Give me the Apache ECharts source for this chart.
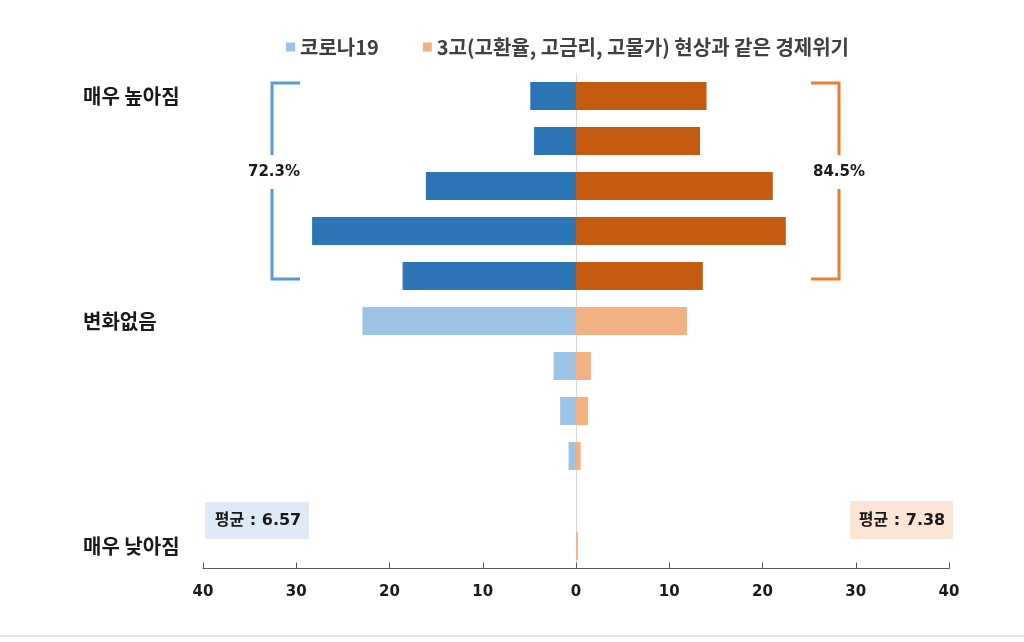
<!DOCTYPE html>
<html><head><meta charset="utf-8">
<script src="https://cdn.jsdelivr.net/npm/echarts@6/dist/echarts.min.js"></script>
<style>html,body{margin:0;padding:0;background:#fff}#c{width:1024px;height:642px}</style>
</head><body><div id="c"></div>
<script>
const categories = ['10','9','8','7','6','5','4','3','2','1','0'];
const categoryLabels = ['매우 높아짐','','','','','변화없음','','','','','매우 낮아짐'];
const seriesNames = ['코로나19','3고(고환율, 고금리, 고물가) 현상과 같은 경제위기'];
const covid = [4.9, 4.5, 16.1, 28.3, 18.6, 22.9, 2.4, 1.7, 0.8, 0, 0];
const crisis = [14.0, 13.3, 21.1, 22.5, 13.6, 11.9, 1.6, 1.3, 0.5, 0, 0.2];
const highShare = ['72.3%', '84.5%'];
const averages = ['평균 : 6.57', '평균 : 7.38'];
const xTicks = [-40, 40, 10];

const FONT = '"Noto Sans CJK KR", "Noto Sans", sans-serif';
const NUMFONT = '"DejaVu Sans", "Noto Sans CJK KR", sans-serif';
const darkBlue = '#2E75B6', lightBlue = '#9DC3E6', darkOrange = '#C55A11', lightOrange = '#F4B183';

const chart = echarts.init(document.getElementById('c'));
const mk = (vals, sign, dark, light) => vals.map((v, i) => ({value: sign * v, itemStyle: {color: i < 5 ? dark : light}}));

chart.setOption({
  animation: false,
  textStyle: {fontFamily: FONT},
  legend: {
    top: 32, left: 281, itemWidth: 9, itemHeight: 9, itemGap: 44, icon: 'rect',
    textStyle: {fontFamily: FONT, fontSize: 20, fontWeight: 'bold', color: '#404040'},
    data: seriesNames
  },
  grid: {left: 203, right: 75, top: 73.5, height: 495, containLabel: false},
  xAxis: {
    type: 'value', min: xTicks[0], max: xTicks[1], interval: xTicks[2],
    axisLine: {show: true, lineStyle: {color: '#595959', width: 1}},
    axisTick: {show: true, inside: true, length: 6, lineStyle: {color: '#595959'}},
    splitLine: {show: false},
    axisLabel: {formatter: v => Math.abs(v), fontFamily: NUMFONT, fontSize: 15, fontWeight: 'bold', color: '#1a1a1a', margin: 16}
  },
  yAxis: {
    type: 'category', data: categories, inverse: true,
    axisLine: {show: true, onZero: true, lineStyle: {color: '#d9d9d9', width: 1}},
    axisTick: {show: false},
    axisLabel: {
      formatter: (v, i) => categoryLabels[i], align: 'left', margin: 120,
      fontFamily: FONT, fontSize: 20, fontWeight: 'bold', color: '#1a1a1a'
    }
  },
  series: [
    {name: seriesNames[0], type: 'bar', stack: 'a', barWidth: 28, itemStyle: {color: lightBlue}, data: mk(covid, -1, darkBlue, lightBlue)},
    {name: seriesNames[1], type: 'bar', stack: 'a', barWidth: 28, itemStyle: {color: lightOrange}, data: mk(crisis, 1, darkOrange, lightOrange)}
  ]
});

// annotations positioned from axis scales
const yTop = chart.convertToPixel({yAxisIndex: 0}, categories[0]) - 13;
const yBot = chart.convertToPixel({yAxisIndex: 0}, categories[4]) + 3;
const yMid = (yTop + yBot) / 2 - 9;
const gap = 17;
const bracket = (x, dir, color) => [
  {type: 'polyline', shape: {points: [[x + dir * 28, yTop], [x, yTop], [x, yMid - gap]]}, style: {stroke: color, lineWidth: 3, fill: null}},
  {type: 'polyline', shape: {points: [[x, yMid + gap], [x, yBot], [x + dir * 28, yBot]]}, style: {stroke: color, lineWidth: 3, fill: null}}
];
const yAvg = chart.convertToPixel({yAxisIndex: 0}, categories[9]) + 20;
chart.setOption({
  graphic: [
    ...bracket(272, 1, '#5B9BD5'),
    ...bracket(839, -1, '#ED7D31'),
    {type: 'text', x: 274, y: yMid, style: {text: highShare[0], font: 'bold 15px ' + NUMFONT, fill: '#1a1a1a', align: 'center', verticalAlign: 'middle', backgroundColor: '#fff', padding: [2, 0]}},
    {type: 'text', x: 839, y: yMid, style: {text: highShare[1], font: 'bold 15px ' + NUMFONT, fill: '#1a1a1a', align: 'center', verticalAlign: 'middle', backgroundColor: '#fff', padding: [2, 0]}},
    {type: 'rect', shape: {x: 205, y: yAvg - 19, width: 104, height: 37}, style: {fill: '#DEEBF7'}},
    {type: 'text', x: 258, y: yAvg, style: {text: averages[0], font: 'bold 16px ' + NUMFONT, fill: '#1a1a1a', align: 'center', verticalAlign: 'middle'}},
    {type: 'rect', shape: {x: 850, y: yAvg - 20, width: 103, height: 38}, style: {fill: '#FBE5D6'}},
    {type: 'text', x: 902, y: yAvg, style: {text: averages[1], font: 'bold 16px ' + NUMFONT, fill: '#1a1a1a', align: 'center', verticalAlign: 'middle'}},
    {type: 'line', shape: {x1: 0, y1: 636, x2: 1024, y2: 636}, style: {stroke: '#d0d0d0', lineWidth: 1}}
  ]
});
</script></body></html>
